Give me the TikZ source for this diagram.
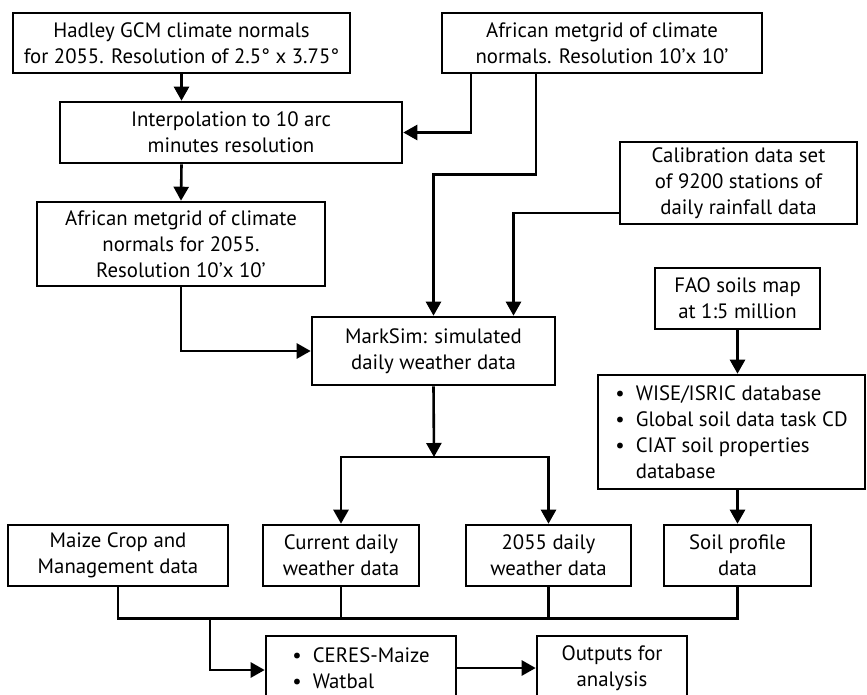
\documentclass[tikz,border=0pt]{standalone}
\usepackage{fontspec}
\setmainfont{PT Sans}
\usepackage{tikz}
\usetikzlibrary{arrows.meta}

\tikzset{
  box/.style={draw, line width=2.6pt, align=center, inner sep=2pt,
    font=\fontsize{20.8}{26}\selectfont},
  arr/.style={line width=2.6pt, -{Triangle[length=14pt,width=15pt]}},
  ln/.style={line width=2.6pt}
}

\begin{document}
\begin{tikzpicture}[x=1pt,y=-1pt]
	\clip (0,0) rectangle (867,694);

            % inputs at the top
            \node[box, minimum width=337pt, minimum height=60pt] (hadley) at (181.5,43) {Hadley GCM climate normals\\for 2055. Resolution of 2.5° x 3.75°};
            \node[box, minimum width=320pt, minimum height=60pt] (gridnow) at (602,43) {African metgrid of climate\\normals. Resolution 10’x 10’};
            \node[box, minimum width=342pt, minimum height=61pt] (interp) at (231,132.5) {Interpolation to 10 arc\\minutes resolution};
            \node[box, minimum width=288pt, minimum height=84pt] (grid2055) at (181,244) {African metgrid of climate\\normals for 2055.\\Resolution 10’x 10’};
            \node[box, minimum width=237pt, minimum height=82pt] (calib) at (738.5,183) {Calibration data set\\of 9200 stations of\\daily rainfall data};
            \node[box, minimum width=243pt, minimum height=68pt] (marksim) at (433.5,351) {MarkSim: simulated\\daily weather data};

            % soils
            \node[box, minimum width=165pt, minimum height=61pt] (fao) at (737.5,298.5) {FAO soils map\\at 1:5 million};
            \node[box, minimum width=267pt, minimum height=114pt, align=left] (wise) at (731.5,432) {\textbullet\ \ WISE/ISRIC database\\\textbullet\ \ Global soil data task CD\\\textbullet\ \ CIAT soil properties\\\phantom{\textbullet\ \ }database};

            % model inputs
            \node[box, minimum width=220pt, minimum height=61pt] (maize) at (118,555.5) {Maize Crop and\\Management data};
            \node[box, minimum width=156pt, minimum height=61pt] (current) at (341,555.5) {Current daily\\weather data};
            \node[box, minimum width=165pt, minimum height=61pt] (y2055) at (548.5,555.5) {2055 daily\\weather data};
            \node[box, minimum width=147pt, minimum height=61pt] (soil) at (737.5,555.5) {Soil profile\\data};

            % model and outputs
            \node[box, minimum width=190pt, minimum height=64pt, align=left] (ceres) at (361,668) {\textbullet\ \ CERES-Maize\\\textbullet\ \ Watbal};
            \node[box, minimum width=150pt, minimum height=64pt] (outputs) at (612,668) {Outputs for\\analysis};

            \coordinate (fork) at (434,457);
            \coordinate (merge) at (210,617);

            \draw[arr] (hadley.south) -- (hadley.south |- interp.north);
            \draw[arr] ([xshift=-131pt]gridnow.south) |- (interp.east);
            \draw[arr] (interp.south -| hadley.south) -- (grid2055.north);
            \draw[arr] ([xshift=-66pt]gridnow.south) -- ++(0,100) -| (marksim.north);
            \draw[arr] ([yshift=-30pt]calib.west) -| ([xshift=80pt]marksim.north);
            \draw[arr] (grid2055.south) |- (marksim.west);

            \draw[arr] (marksim.south) -- (fork);
            \draw[arr] (fork) -| (current.north);
            \draw[arr] (fork) -| (y2055.north);

            \draw[arr] (fao.south) -- (wise.north -| fao.south);
            \draw[arr] (wise.south -| fao.south) -- (soil.north);

            \draw[ln] (maize.south) -- ++(0,31) -| (soil.south);
            \draw[ln] (current.south) -- ++(0,31);
            \draw[ln] (y2055.south) -- ++(0,31);
            \draw[arr] ([yshift=-2pt]merge) |- ([yshift=-2pt]ceres.west);
            \draw[arr] (ceres.east) -- (outputs.west);

        \end{tikzpicture}
\end{document}
